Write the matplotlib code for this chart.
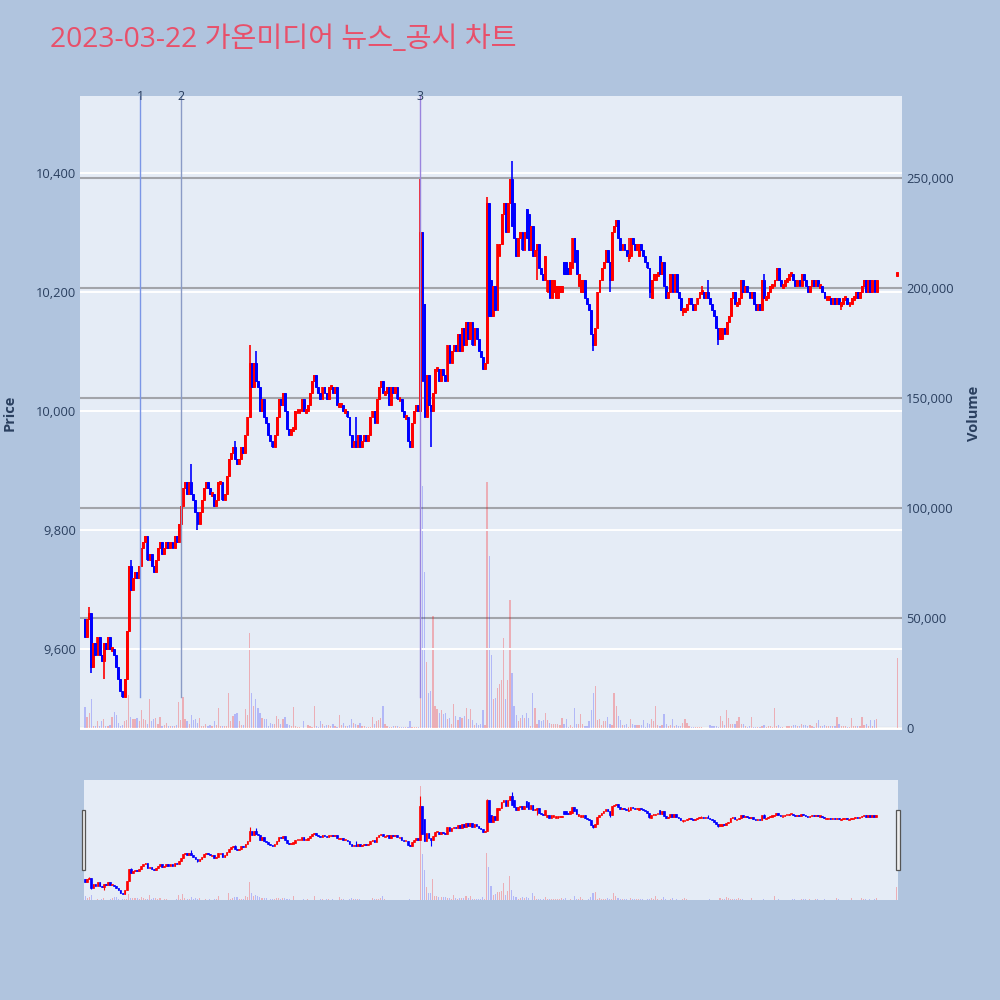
import numpy as np
import pandas as pd
import matplotlib
matplotlib.use('Agg')
import matplotlib.pyplot as plt
import matplotlib.dates as mdates
import matplotlib.transforms as mtransforms
from matplotlib.patches import Rectangle
from matplotlib.ticker import FixedLocator, FuncFormatter

plt.rcParams['font.family'] = ['Open Sans', 'Noto Sans CJK KR', 'DejaVu Sans']

# ---------------- data ----------------
title = '2023-03-22 가온미디어 뉴스_공시 차트'
session_start = '2023-03-22 09:00'

close_0900 = [9620, 9650, 9660, 9570, 9610, 9590, 9620, 9590, 9580, 9610,
              9600, 9620, 9600, 9600, 9590, 9570, 9550, 9530, 9520, 9550,
              9630, 9740, 9700, 9720, 9730, 9720, 9740, 9770, 9780, 9790,
              9750, 9760, 9740, 9730, 9750, 9770, 9780, 9760, 9770, 9780,
              9770, 9780, 9770, 9790, 9780, 9810, 9840, 9870, 9880, 9860,
              9880, 9860, 9850, 9830, 9810, 9830, 9850, 9870, 9880, 9870]
close_1000 = [9860, 9860, 9840, 9850, 9880, 9880, 9850, 9860, 9890, 9920,
              9930, 9940, 9920, 9910, 9920, 9940, 9930, 9960, 9990, 10080,
              10040, 10080, 10050, 10040, 10000, 10020, 9990, 9980, 9960, 9950,
              9940, 9960, 9990, 10020, 10010, 10030, 10000, 9970, 9960, 9970,
              9970, 10000, 10000, 10000, 10020, 10000, 10000, 10010, 10030, 10050,
              10060, 10040, 10030, 10020, 10040, 10030, 10020, 10040, 10040, 10030]
close_1100 = [10040, 10010, 10010, 10010, 10000, 10000, 9990, 9960, 9940, 9950,
              9940, 9960, 9940, 9950, 9960, 9950, 9960, 9990, 10000, 9980,
              10020, 10040, 10050, 10030, 10030, 10040, 10010, 10040, 10030, 10040,
              10020, 10020, 10000, 9990, 9990, 9950, 9940, 9980, 10000, 10010,
              10000, 10300, 10050, 9990, 10060, 10010, 10000, 10030, 10070, 10070,
              10050, 10070, 10060, 10050, 10110, 10080, 10100, 10110, 10100, 10130]
close_1200 = [10100, 10140, 10110, 10150, 10120, 10150, 10110, 10140, 10120, 10100,
              10090, 10070, 10080, 10350, 10160, 10160, 10210, 10170, 10280, 10280,
              10330, 10350, 10300, 10350, 10390, 10310, 10290, 10260, 10290, 10300,
              10270, 10300, 10290, 10270, 10310, 10260, 10270, 10280, 10240, 10230,
              10220, 10260, 10220, 10190, 10220, 10220, 10210, 10210, 10210, 10210,
              10230, 10230, 10230, 10250, 10290, 10250, 10230, 10230, 10220, 10220]
close_1300 = [10190, 10180, 10170, 10130, 10110, 10140, 10200, 10220, 10240, 10250,
              10270, 10250, 10220, 10300, 10310, 10320, 10290, 10270, 10280, 10270,
              10260, 10260, 10290, 10280, 10270, 10280, 10280, 10270, 10260, 10250,
              10240, 10200, 10220, 10230, 10230, 10230, 10230, 10250, 10210, 10190,
              10200, 10230, 10200, 10230, 10200, 10190, 10170, 10170, 10170, 10180,
              10190, 10180, 10170, 10180, 10190, 10200, 10200, 10190, 10200, 10190]
close_1400 = [10180, 10170, 10160, 10140, 10120, 10140, 10140, 10130, 10150, 10160,
              10190, 10200, 10180, 10180, 10190, 10220, 10200, 10210, 10200, 10190,
              10200, 10180, 10170, 10180, 10170, 10220, 10190, 10190, 10200, 10210,
              10210, 10220, 10240, 10220, 10210, 10210, 10220, 10220, 10230, 10230,
              10220, 10210, 10220, 10210, 10230, 10220, 10210, 10200, 10210, 10220,
              10210, 10220, 10210, 10210, 10200, 10190, 10190, 10190, 10180, 10190]
close_1500 = [10180, 10190, 10180, 10180, 10190, 10190, 10180, 10180, 10190, 10190,
              10200, 10190, 10200, 10210, 10220, 10200, 10220, 10200, 10220, 10200, 10220]

volume_0900 = [9500, 5000, 7000, 13000, 1000, 1000, 3000, 1000, 3000, 4000,
               800, 1000, 1500, 5000, 7500, 6000, 2500, 1000, 1500, 3000,
               3500, 15000, 5000, 4000, 4000, 4500, 3000, 8000, 4000, 3500,
               2000, 13000, 3000, 4000, 4500, 2000, 5000, 1000, 1500, 2500,
               800, 1000, 800, 800, 1500, 12000, 3500, 14000, 4000, 3000,
               2000, 6000, 3500, 4000, 2500, 4500, 1000, 800, 2000, 800]
volume_1000 = [1500, 1000, 3000, 1500, 9000, 700, 1000, 700, 1000, 16000,
               3000, 5500, 6500, 7000, 3000, 1500, 1500, 8500, 6000, 43000,
               16000, 10000, 13000, 9000, 7000, 4500, 4000, 4000, 1000, 2500,
               2000, 2000, 5500, 4000, 2000, 4000, 5000, 2000, 1500, 1000,
               9500, 1000, 500, 300, 200, 3000, 200, 1500, 1000, 300,
               10000, 700, 300, 3000, 2000, 1000, 1500, 1500, 1000, 2000]
volume_1100 = [700, 300, 6000, 1500, 2500, 700, 1000, 1500, 4000, 2500,
               2000, 1500, 2500, 1000, 700, 300, 300, 500, 5000, 2000,
               3000, 3500, 4500, 10000, 2000, 1000, 300, 300, 1000, 1000,
               700, 300, 400, 300, 400, 400, 3000, 400, 500, 300,
               300, 272000, 110000, 71000, 30000, 16000, 17000, 51000, 10000, 8500,
               7000, 8000, 6500, 7000, 4000, 4500, 2000, 11000, 5500, 3500]
volume_1200 = [5000, 4500, 5500, 9000, 4000, 8500, 3500, 1500, 2500, 1500,
               2000, 8000, 1500, 112000, 78000, 33000, 13000, 13500, 18000, 20000,
               22000, 41000, 13000, 22000, 58000, 25000, 10000, 6000, 3000, 4500,
               6000, 4500, 7000, 4500, 1000, 16000, 9000, 2000, 3500, 3000,
               3500, 7000, 3500, 2500, 2000, 2000, 2000, 2000, 1500, 4500,
               2000, 4000, 500, 1500, 300, 9000, 2000, 2000, 6500, 2000]
volume_1300 = [800, 800, 3000, 8000, 16000, 19000, 3500, 4000, 1500, 3000,
               3000, 5000, 2000, 1500, 16000, 10000, 5500, 3500, 1500, 1500,
               2000, 500, 4000, 2000, 1500, 1500, 1500, 1500, 3500, 500,
               2500, 2000, 4000, 3000, 10000, 1500, 1000, 1500, 6500, 2000,
               700, 1500, 4000, 700, 1500, 1000, 700, 2500, 4000, 2500,
               1000, 500, 300, 500, 300, 500, 300, 200, 200, 200]
volume_1400 = [1500, 700, 700, 1000, 500, 5500, 3000, 1500, 8000, 4500,
               2000, 2000, 2000, 3000, 5000, 2000, 2000, 1000, 300, 700,
               5000, 500, 500, 500, 500, 700, 1200, 500, 1000, 700,
               300, 9000, 1000, 1500, 300, 300, 200, 700, 700, 1000,
               1500, 1500, 700, 700, 2000, 1500, 1500, 1000, 1500, 700,
               300, 2500, 3500, 700, 700, 1500, 700, 1000, 1000, 1000]
volume_1500 = [700, 5000, 2000, 700, 700, 1000, 300, 300, 4500, 700,
               700, 700, 1000, 5000, 1500, 2000, 1000, 3500, 1000, 3500, 4000]

# opens differing from the previous close (minute index -> open)
open_gaps = {0: 9650, 161: 10000, 163: 10180, 193: 10080, 195: 10220, 199: 10260,
             206: 10350, 212: 10340, 213: 10330, 222: 10200, 223: 10220, 225: 10200,
             226: 10190, 227: 10190, 228: 10200, 229: 10200, 230: 10250, 231: 10250,
             232: 10240, 234: 10240, 236: 10270, 237: 10210, 238: 10200, 239: 10200,
             266: 10260, 272: 10190, 274: 10220, 276: 10260, 306: 10120}
high_wicks = {2: 9670, 22: 9750, 51: 9910, 72: 9950, 79: 10110, 82: 10100, 130: 9990,
              161: 10390, 193: 10360, 205: 10420, 261: 10290, 276: 10260, 296: 10210,
              299: 10220, 326: 10230}
low_wicks = {3: 9560, 9: 9550, 54: 9800, 166: 9940, 191: 10070, 217: 10220, 244: 10100,
             252: 10200, 261: 10250, 271: 10190, 287: 10160, 304: 10110, 363: 10170}

closing_time = '2023-03-22 15:30'
closing_price = 10230
closing_volume = 32000

event_times = ['2023-03-22 09:26:30', '2023-03-22 09:46:00', '2023-03-22 11:41:00']
event_labels = ['1', '2', '3']
event_colors = ['#7b96e6', '#8a9bc6', '#9a84dd']

price_ticks = [9600, 9800, 10000, 10200, 10400]
volume_ticks = [0, 50000, 100000, 150000, 200000, 250000]
hour_ticks = ['09:00', '10:00', '11:00', '12:00', '13:00', '14:00', '15:00']

# ---------------- build series ----------------
closes = np.array(close_0900 + close_1000 + close_1100 + close_1200 +
                  close_1300 + close_1400 + close_1500, dtype=float)
volumes = np.array(volume_0900 + volume_1000 + volume_1100 + volume_1200 +
                   volume_1300 + volume_1400 + volume_1500, dtype=float)
n = len(closes)
times = pd.date_range(session_start, periods=n, freq='min')
opens = np.empty(n)
opens[1:] = closes[:-1]
for k, v in open_gaps.items():
    opens[k] = v
highs = np.maximum(opens, closes)
lows = np.minimum(opens, closes)
for k, v in high_wicks.items():
    highs[k] = max(highs[k], v)
for k, v in low_wicks.items():
    lows[k] = min(lows[k], v)

# closing auction single print
times = times.append(pd.DatetimeIndex([closing_time]))
opens = np.append(opens, closing_price)
closes = np.append(closes, closing_price)
highs = np.append(highs, closing_price)
lows = np.append(lows, closing_price)
volumes = np.append(volumes, closing_volume)

prev = np.concatenate([[opens[0]], closes[:-1]])
up = (closes > opens) | ((closes == opens) & (closes >= prev))
RED, BLUE = '#ff0000', '#0000ff'
cols = np.where(up, RED, BLUE)
vcols = [(1, 0, 0, 0.26) if u else (0, 0, 1, 0.22) for u in up]

x = mdates.date2num(times)
minute = 1.0 / 1440.0

BG = '#b0c4de'
PLOT_BG = '#e5ecf6'
TXT = '#2a3f5f'

fig = plt.figure(figsize=(10, 10), dpi=100, facecolor=BG)

price_lim = (9464, 10529)
vol_lim = (-900, 287300)


def draw(ax, axv, body_w, lw_edge, wick_lw, vol_w, min_h):
    axv.bar(x, volumes, width=vol_w * minute, color=vcols, linewidth=0, zorder=2)
    body_h = np.abs(closes - opens)
    body_b = np.minimum(opens, closes)
    hh = np.maximum(body_h, min_h)
    bb = body_b - (hh - body_h) / 2.0
    ax.vlines(x, lows, highs, colors=cols, linewidth=wick_lw, zorder=3)
    ax.bar(x, hh, bottom=bb, width=body_w * minute,
           color=cols, edgecolor=cols, linewidth=lw_edge, zorder=4)


# ---------------- main chart ----------------
axv = fig.add_axes([0.08, 0.27, 0.822, 0.634])
ax = axv.twinx()
ax.yaxis.tick_left()
ax.yaxis.set_label_position('left')
axv.yaxis.tick_right()
axv.set_zorder(1)
ax.set_zorder(2)
ax.patch.set_visible(False)
axv.set_facecolor(PLOT_BG)

draw(ax, axv, 0.9, 0.7, 1.2, 0.6, 6)

t0 = mdates.date2num(pd.Timestamp(session_start))
ax.set_xlim(t0 - 2.4 * minute, t0 + 392.2 * minute)
ax.set_ylim(*price_lim)
axv.set_ylim(*vol_lim)

ax.yaxis.set_major_locator(FixedLocator(price_ticks))
ax.yaxis.set_major_formatter(FuncFormatter(lambda v, p: f'{int(v):,}'))
axv.yaxis.set_major_locator(FixedLocator(volume_ticks))
axv.yaxis.set_major_formatter(FuncFormatter(lambda v, p: f'{int(v):,}'))

ax.yaxis.grid(True, color='white', linewidth=1.4, zorder=0)
axv.yaxis.grid(True, color='#a2a4aa', linewidth=1.5, zorder=0)
axv.set_axisbelow(True)
ax.set_axisbelow(True)
axv.axhline(0, color='white', linewidth=2, zorder=1)

hour_pos = [mdates.date2num(pd.Timestamp('2023-03-22 ' + h)) for h in hour_ticks]
hour_lab = list(hour_ticks)
hour_lab[0] = hour_ticks[0] + '\nMar 22, 2023'
ax.set_xticks(hour_pos)
ax.set_xticklabels(hour_lab, linespacing=1.45)

for a in (ax, axv):
    for s in a.spines.values():
        s.set_visible(False)
    a.tick_params(length=0, colors=TXT, labelsize=9.3)
ax.tick_params(axis='y', pad=3)
axv.tick_params(axis='y', pad=3)
ax.tick_params(axis='x', pad=5)
axv.tick_params(axis='x', labelbottom=False)

trans = mtransforms.blended_transform_factory(ax.transData, ax.transAxes)
for t, lab, c in zip(event_times, event_labels, event_colors):
    tx = mdates.date2num(pd.Timestamp(t))
    ax.axvline(tx, ymin=0.052, ymax=1.0, color=c, linewidth=1.0, zorder=5)
    ax.text(tx, 1.0, lab, transform=trans, ha='center', va='center',
            fontsize=9, color=TXT, zorder=6)

fig.text(0.010, 0.587, 'Price', rotation=90, ha='center', va='center',
         fontsize=10.5, color=TXT, fontweight='bold')
fig.text(0.974, 0.587, 'Volume', rotation=90, ha='center', va='center',
         fontsize=10.5, color=TXT, fontweight='bold')
fig.text(0.05, 0.96, title, ha='left', va='center', fontsize=20.3, color='#e8506a')

# ---------------- range slider ----------------
slv = fig.add_axes([0.084, 0.10, 0.814, 0.12])
sl = slv.twinx()
slv.set_zorder(1)
sl.set_zorder(2)
sl.patch.set_visible(False)
slv.set_facecolor(PLOT_BG)
draw(sl, slv, 0.8, 0.5, 0.8, 0.5, 10)
sl.set_xlim(t0 - 0.5 * minute, t0 + 390.5 * minute)
sl.set_ylim(*price_lim)
slv.set_ylim(0, 287300)
for a in (sl, slv):
    a.set_xticks([])
    a.set_yticks([])
    for s in a.spines.values():
        s.set_visible(False)
for hx in (-0.0027, 0.9975):
    sl.add_patch(Rectangle((hx, 0.25), 0.0045, 0.5, transform=sl.transAxes,
                           facecolor='#eeeeee', edgecolor='#555555', linewidth=0.9,
                           clip_on=False, zorder=10))

fig.savefig('out.png', dpi=100, facecolor=BG)
